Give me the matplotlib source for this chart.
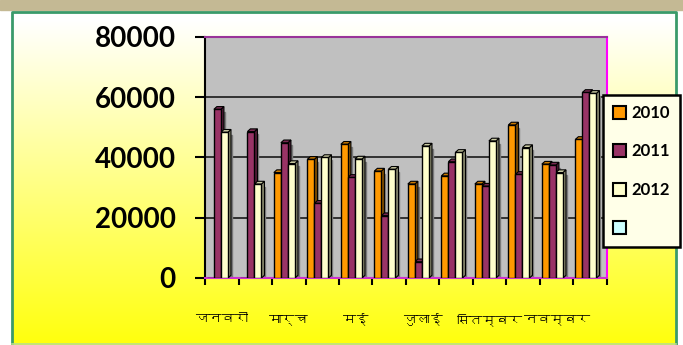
import matplotlib
matplotlib.use("Agg")
import matplotlib.pyplot as plt
import numpy as np
from matplotlib import font_manager
from matplotlib.ft2font import FT2Font
from matplotlib.patches import Polygon, Rectangle
from matplotlib.colors import to_rgb

# ── 数据 ──────────────────────────────────────────────
MONTHS = ["जनवरी", "फरवरी", "मार्च", "अप्रैल", "मई", "जून",
          "जुलाई", "अगस्त", "सितम्बर", "अक्टूबर", "नवम्बर", "दिसम्बर"]
SERIES = ["2010", "2011", "2012", ""]
V2010 = [0, 0, 35000, 39400, 44400, 35500, 31200, 33900, 31200, 50800, 37800, 46000]
V2011 = [56000, 48600, 44900, 24800, 33400, 20700, 5400, 38600, 30500, 34400, 37500, 61600]
V2012 = [48400, 31200, 38000, 40000, 39500, 36100, 43800, 41700, 45500, 43300, 35000, 61300]
COLORS = ["#FF9900", "#993366", "#FFFFCC", "#CCFFFF"]


def find_deva_font():
    # 找一个带天城文字形的字体（如果有的话）
    for fe in font_manager.fontManager.ttflist:
        try:
            if FT2Font(fe.fname).get_char_index(0x091C):
                return fe.name
        except Exception:
            pass
    return None


deva = find_deva_font()
label_family = [deva, "DejaVu Sans"] if deva else ["DejaVu Sans"]


def darker(c, f=0.55):
    r, g, b = to_rgb(c)
    return (r * f, g * f, b * f)


fig = plt.figure(figsize=(6.83, 3.45), dpi=100)

# ── 背景：白→黄渐变 + 边框 ──
bg = fig.add_axes([0, 0, 1, 1], zorder=-10)
grad = np.linspace(0, 1, 256).reshape(-1, 1)
top = np.array([1.0, 1.0, 1.0])
bot = np.array([1.0, 1.0, 0.05])
img = top + (bot - top) * grad[..., None]
bg.imshow(img, extent=[0, 683, 345, 20], aspect="auto")
bg.add_patch(Rectangle((0, 0), 683, 20, color="white"))
bg.add_patch(Rectangle((0, 0), 11, 345, color="white"))
bg.add_patch(Rectangle((676, 0), 7, 345, color="white"))
bg.add_patch(Rectangle((0, 0), 683, 10, color="#C4B994"))
bg.plot([11.5, 11.5, 675.5, 675.5], [345, 11.5, 11.5, 345], color="#3A9A6A", lw=2)
bg.plot([11.5, 675.5], [343.5, 343.5], color="#B8E08A", lw=1.2)
bg.set_xlim(0, 683)
bg.set_ylim(345, 0)
bg.axis("off")

# ── 主图 ──
ax = fig.add_axes([205 / 683, 67 / 345, 402 / 683, 241 / 345])
ax.set_facecolor("#C0C0C0")
ax.set_xlim(-0.5, 11.5)
ax.set_ylim(0, 80000)

x = np.arange(len(MONTHS))
w = 0.21
offsets = [-0.13 - w, -0.13, -0.13 + w]
dx, dy = 0.09, 900

for k, vals in enumerate([V2010, V2011, V2012]):
    col = COLORS[k]
    xs = x + offsets[k]
    for xi, v in zip(xs, vals):
        if v <= 0:
            continue
        left = xi - w / 2
        right = xi + w / 2
        # 阴影
        ax.add_patch(Rectangle((right, 0), dx * 1.3, v - dy, color="#7A7A7A", zorder=2))
        # 侧面
        ax.add_patch(Polygon([(right, 0), (right + dx, dy), (right + dx, v + dy), (right, v)],
                             closed=True, fc=darker(col), ec="black", lw=0.8, zorder=3))
        # 顶面
        ax.add_patch(Polygon([(left, v), (left + dx, v + dy), (right + dx, v + dy), (right, v)],
                             closed=True, fc=darker(col, 0.8), ec="black", lw=0.8, zorder=3))
    ax.bar(xs, vals, width=w, color=col, edgecolor="black", linewidth=1.0, zorder=4)

for gy in [20000, 40000, 60000]:
    ax.axhline(gy, color="#1A1A1A", lw=1.2, zorder=1)

ax.set_yticks([0, 20000, 40000, 60000, 80000])
ax.set_yticklabels(["0", "20000", "40000", "60000", "80000"],
                   fontsize=20, fontweight="bold", family=["Lato", "DejaVu Sans"])
ax.tick_params(axis="y", length=7, width=1.5, direction="out", pad=14)

ax.set_xticks(np.arange(-0.5, 12, 1), minor=True)
ax.set_xticks(x[::2])
ax.set_xticklabels(MONTHS[::2], fontsize=9.5, family=label_family)
ax.tick_params(axis="x", which="major", length=0, pad=25)
ax.tick_params(axis="x", which="minor", length=5, width=1.5)

ax.spines["left"].set_color("black")
ax.spines["left"].set_linewidth(1.5)
ax.spines["top"].set_color("#993399")
ax.spines["right"].set_color("#FF00FF")
ax.spines["bottom"].set_color("#CC33CC")
for s in ["top", "right", "bottom"]:
    ax.spines[s].set_linewidth(1.5)

# ── 图例 ──
handles = [Rectangle((0, 0), 1, 1, fc=c, ec="black", lw=1.5) for c in COLORS]
leg = fig.legend(handles, SERIES, loc="upper left",
                 bbox_to_anchor=(603 / 683, 1 - 95 / 345),
                 prop={"family": ["Lato", "DejaVu Sans"], "weight": "bold", "size": 12},
                 handlelength=0.8, handleheight=0.8, handletextpad=0.3,
                 labelspacing=1.35, borderpad=0.6, borderaxespad=0,
                 fancybox=False, framealpha=1)
leg.get_frame().set_edgecolor("black")
leg.get_frame().set_linewidth(1.8)
leg.get_frame().set_facecolor("#FFFFE8")

fig.savefig("out.png", dpi=100)
